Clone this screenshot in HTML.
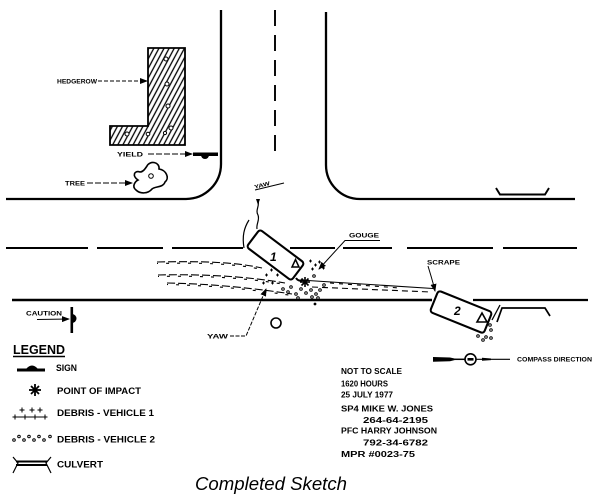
<!DOCTYPE html>
<html><head><meta charset="utf-8"><style>
html,body{margin:0;padding:0;background:#fff;}
svg{display:block;}
text{font-family:"Liberation Sans",Arial,sans-serif;fill:#000;}
.b{font-weight:bold;}
</style></head><body>
<svg width="600" height="504" viewBox="0 0 600 504" xmlns="http://www.w3.org/2000/svg">
<defs>
<pattern id="hatch" width="4.5" height="10" patternUnits="userSpaceOnUse" patternTransform="rotate(28)">
<line x1="1" y1="0" x2="1" y2="10" stroke="#000" stroke-width="1.3"/>
</pattern>
<marker id="ah" markerWidth="8" markerHeight="6" refX="7" refY="3" orient="auto" markerUnits="userSpaceOnUse">
<path d="M0,0 L8,3 L0,6 Z" fill="#000"/>
</marker>
</defs>
<rect width="600" height="504" fill="#fff"/>

<!-- road edges -->
<path d="M221,10 V164 A35,35 0 0 1 186,199 H6" fill="none" stroke="#000" stroke-width="2.3"/>
<path d="M326,12 V165 A34,34 0 0 0 360,199 H575" fill="none" stroke="#000" stroke-width="2.3"/>
<line x1="275" y1="10" x2="275" y2="160" stroke="#000" stroke-width="1.9" stroke-dasharray="16 9"/>
<g stroke="#000" stroke-width="2">
<line x1="6" y1="248" x2="88" y2="248"/>
<line x1="97" y1="248" x2="163" y2="248"/>
<line x1="172" y1="248" x2="243" y2="248"/>
<line x1="290" y1="248" x2="335" y2="248"/>
<line x1="343" y1="248" x2="392" y2="248"/>
<line x1="407" y1="248" x2="493" y2="248"/>
<line x1="503" y1="248" x2="577" y2="248"/>
</g>
<line x1="12" y1="300" x2="432" y2="300" stroke="#000" stroke-width="2.4"/>
<line x1="473" y1="300" x2="588" y2="300" stroke="#000" stroke-width="2.2"/>

<!-- culverts -->
<path d="M496,188 L500,194.5 L545,194.5 L549,188" fill="none" stroke="#000" stroke-width="1.9"/>
<path d="M497,322 L502,308 L545,308 L550,316" fill="none" stroke="#000" stroke-width="1.7"/>

<!-- hedgerow -->
<path d="M148,48 L185,48 L185,145 L110,145 L110,126 L148,126 Z" fill="url(#hatch)" stroke="#000" stroke-width="1.8"/>
<g fill="#fff" stroke="#000" stroke-width="1">
<circle cx="166" cy="59" r="2"/><circle cx="167" cy="84" r="2"/><circle cx="168" cy="106" r="2"/>
<circle cx="171" cy="128" r="2"/><circle cx="165" cy="133" r="1.6"/><circle cx="148" cy="134" r="1.8"/><circle cx="127" cy="134" r="2"/>
</g>
<text class="b" x="57" y="83.5" font-size="6.5" textLength="40" lengthAdjust="spacingAndGlyphs">HEDGEROW</text>
<line x1="98" y1="81" x2="147" y2="81" stroke="#000" stroke-width="1" stroke-dasharray="4 2" marker-end="url(#ah)"/>

<!-- yield -->
<text class="b" x="117" y="156.5" font-size="6.5" textLength="26" lengthAdjust="spacingAndGlyphs">YIELD</text>
<line x1="148" y1="154" x2="192" y2="154" stroke="#000" stroke-width="1" stroke-dasharray="6 2" marker-end="url(#ah)"/>
<rect x="193" y="152.5" width="25" height="3.5" fill="#000"/>
<path d="M201,155 A4,4 0 0 0 209,155 Z" fill="#000"/>

<!-- tree -->
<path d="M147,166 C150,160 160,162 159,169 C166,170 170,178 165,182 C163,188 155,186 152,189 C148,194 140,194 136,190 C131,186 136,181 138,180 C132,176 134,170 140,172 C143,172 145,169 147,166 Z" fill="#fff" stroke="#000" stroke-width="1.6"/>
<circle cx="151" cy="176" r="2.3" fill="none" stroke="#000" stroke-width="1"/>
<text class="b" x="65" y="185.5" font-size="6.5" textLength="20" lengthAdjust="spacingAndGlyphs">TREE</text>
<line x1="87" y1="183" x2="132" y2="183" stroke="#000" stroke-width="1" stroke-dasharray="6 2" marker-end="url(#ah)"/>

<!-- upper yaw -->
<text class="b" x="254" y="187" font-size="5.5" textLength="16" lengthAdjust="spacingAndGlyphs" transform="rotate(-14 262 185)">YAW</text>
<line x1="255" y1="190" x2="284" y2="183" stroke="#000" stroke-width="1"/>
<path d="M258,200 C260,206 255,210 258,215 C260,220 256,224 257,229" fill="none" stroke="#000" stroke-width="1.2"/>
<path d="M256,199 L258,205 L260,199 Z" fill="#000"/>
<path d="M249,220 C244,228 242,236 244,248" fill="none" stroke="#000" stroke-width="1.2"/>

<!-- skid marks -->
<g fill="none" stroke="#000" stroke-width="1.1">
<path d="M157,262 C200,261 235,262 262,268" stroke-dasharray="8 3"/>
<path d="M157,263.5 C200,262.5 235,263.5 262,269.5" stroke-dasharray="3 8" stroke-dashoffset="2"/>
<path d="M158,275 C200,274 245,276 285,283" stroke-dasharray="8 3"/>
<path d="M158,276.5 C200,275.5 245,277.5 285,284.5" stroke-dasharray="3 8" stroke-dashoffset="2"/>
<path d="M167,283 C210,284 245,287 292,294" stroke-dasharray="8 3"/>
<path d="M167,284.5 C210,285.5 245,288.5 292,295.5" stroke-dasharray="3 8" stroke-dashoffset="2"/>
<path d="M300,280 L433,288.5"/>
<path d="M312,287 L431,292" stroke-dasharray="6 4"/>
<path d="M330,283 L400,288" stroke-dasharray="4 5"/>
</g>

<!-- car 1 -->
<rect x="-28" y="-11" width="56" height="22" rx="3" transform="translate(275.5 255) rotate(37)" fill="#fff" stroke="#000" stroke-width="2.1"/>
<text x="270" y="261" font-size="12" font-style="italic" class="b">1</text>
<path d="M292,267 L299,267 L295.5,259.5 Z" fill="none" stroke="#000" stroke-width="1.5"/>

<!-- car 2 -->
<rect x="-29" y="-11.5" width="58" height="23" rx="3" transform="translate(461 312) rotate(22)" fill="#fff" stroke="#000" stroke-width="2.1"/>
<text x="454" y="315" font-size="12" font-style="italic" class="b">2</text>
<path d="M477,322 L487,322 L482,313 Z" fill="none" stroke="#000" stroke-width="1.6"/>
<line x1="492" y1="320" x2="500" y2="305" stroke="#000" stroke-width="1.3"/>

<!-- impact star -->
<g stroke="#000" stroke-width="1.6">
<line x1="300" y1="282" x2="310" y2="282"/><line x1="305" y1="277" x2="305" y2="287"/>
<line x1="301.5" y1="278.5" x2="308.5" y2="285.5"/><line x1="301.5" y1="285.5" x2="308.5" y2="278.5"/>
</g>
<path d="M296,278 C298,281 300,281 303,280" fill="none" stroke="#000" stroke-width="2"/>

<!-- debris v1 (plus) -->
<g stroke="#000" stroke-width="1">
<path d="M309,261h3M310.5,259.5v3"/><path d="M314,265h3M315.5,263.5v3"/><path d="M318,262h3M319.5,260.5v3"/>
<path d="M311,269h3M312.5,267.5v3"/><path d="M265,275h3M266.5,273.5v3"/><path d="M270,270h3M271.5,268.5v3"/>
<path d="M276,275h3M277.5,273.5v3"/><path d="M271,283h3M272.5,281.5v3"/><path d="M262,283h3M263.5,281.5v3"/>
<path d="M322,268h3M323.5,266.5v3"/>
</g>
<!-- debris v2 (circles) -->
<g fill="none" stroke="#000" stroke-width="1">
<circle cx="283" cy="289" r="1.3"/><circle cx="288" cy="292" r="1.3"/><circle cx="291" cy="287" r="1.3"/>
<circle cx="296" cy="294" r="1.3"/><circle cx="301" cy="289" r="1.3"/><circle cx="306" cy="293" r="1.3"/>
<circle cx="311" cy="290" r="1.3"/><circle cx="316" cy="294" r="1.3"/><circle cx="320" cy="290" r="1.3"/>
<circle cx="318" cy="298" r="1.3"/><circle cx="312" cy="297" r="1.3"/><circle cx="324" cy="285" r="1.3"/>
<circle cx="298" cy="298" r="1.3"/><circle cx="314" cy="276" r="1.3"/>
<circle cx="490" cy="325" r="1.3"/><circle cx="491" cy="330" r="1.3"/><circle cx="478" cy="336" r="1.3"/>
<circle cx="483" cy="340" r="1.3"/><circle cx="486" cy="337" r="1.3"/><circle cx="491" cy="338" r="1.3"/>
</g>
<circle cx="315" cy="304" r="1.4" fill="#000"/>

<!-- gouge -->
<text class="b" x="349" y="237.5" font-size="6.5" textLength="30" lengthAdjust="spacingAndGlyphs">GOUGE</text>
<path d="M380,240.5 L345,240.5 L319,269" fill="none" stroke="#000" stroke-width="1" marker-end="url(#ah)"/>
<!-- scrape -->
<text class="b" x="427" y="264.5" font-size="6.5" textLength="33" lengthAdjust="spacingAndGlyphs">SCRAPE</text>
<path d="M428,266 C431,276 433,282 435,291" fill="none" stroke="#000" stroke-width="1" marker-end="url(#ah)"/>
<!-- lower yaw -->
<text class="b" x="207" y="338.5" font-size="6.5" textLength="21" lengthAdjust="spacingAndGlyphs">YAW</text>
<path d="M230,336 L246,336 L266,289" fill="none" stroke="#000" stroke-width="1" stroke-dasharray="4 1.5" marker-end="url(#ah)"/>
<circle cx="276" cy="323" r="5" fill="none" stroke="#000" stroke-width="1.6"/>

<!-- caution -->
<text class="b" x="26" y="315.5" font-size="6.5" textLength="36" lengthAdjust="spacingAndGlyphs">CAUTION</text>
<line x1="37" y1="319.5" x2="69" y2="319" stroke="#000" stroke-width="1" marker-end="url(#ah)"/>
<rect x="70.5" y="307" width="2.6" height="26" fill="#000"/>
<path d="M72,314 A4.5,4.5 0 0 1 72,323 Z" fill="#000"/>

<!-- compass -->
<path d="M433,357 L450,357.5 L458,359.3 L450,361.2 L433,361.8 Z" fill="#000"/>
<line x1="455" y1="359.3" x2="465" y2="359.3" stroke="#000" stroke-width="1.5"/>
<circle cx="470.5" cy="359.3" r="5.5" fill="#fff" stroke="#000" stroke-width="1.6"/>
<rect x="467.5" y="358" width="6" height="2.6" fill="#000"/>
<line x1="476" y1="359.3" x2="510" y2="359.3" stroke="#000" stroke-width="1.2"/>
<path d="M482,357.8 L491,358.5 L491,360.1 L482,360.8 Z" fill="#000"/>
<text class="b" x="517" y="361.6" font-size="6" textLength="75" lengthAdjust="spacingAndGlyphs">COMPASS DIRECTION</text>

<!-- info -->
<g class="b" font-size="8">
<text class="b" x="341" y="373.8" textLength="61" lengthAdjust="spacingAndGlyphs">NOT TO SCALE</text>
<text class="b" x="341" y="386.3" textLength="47" lengthAdjust="spacingAndGlyphs">1620 HOURS</text>
<text class="b" x="341" y="397.3" textLength="52" lengthAdjust="spacingAndGlyphs">25 JULY 1977</text>
<text class="b" x="341" y="411.3" textLength="92" lengthAdjust="spacingAndGlyphs">SP4 MIKE  W. JONES</text>
<text class="b" x="363" y="423" textLength="65" lengthAdjust="spacingAndGlyphs">264-64-2195</text>
<text class="b" x="341" y="433.7" textLength="96" lengthAdjust="spacingAndGlyphs">PFC HARRY JOHNSON</text>
<text class="b" x="363" y="445.3" textLength="65" lengthAdjust="spacingAndGlyphs">792-34-6782</text>
<text class="b" x="341" y="457" textLength="74" lengthAdjust="spacingAndGlyphs">MPR #0023-75</text>
</g>

<!-- legend -->
<text class="b" x="13" y="354" font-size="12.5" textLength="52" lengthAdjust="spacingAndGlyphs">LEGEND</text>
<line x1="13" y1="356.5" x2="65" y2="356.5" stroke="#000" stroke-width="1.5"/>
<rect x="17" y="368.5" width="28" height="3" fill="#000"/>
<path d="M26,369 Q32,362 38,369 Z" fill="#000"/>
<text class="b" x="56" y="371" font-size="9" textLength="21" lengthAdjust="spacingAndGlyphs">SIGN</text>
<g stroke="#000" stroke-width="1.8">
<line x1="29" y1="390" x2="41" y2="390"/><line x1="35" y1="384" x2="35" y2="396"/>
<line x1="31" y1="386" x2="39" y2="394"/><line x1="31" y1="394" x2="39" y2="386"/>
</g>
<text class="b" x="57" y="394" font-size="9" textLength="84" lengthAdjust="spacingAndGlyphs">POINT OF IMPACT</text>
<g stroke="#000" stroke-width="1">
<path d="M19.5,410h5M22,407.5v5"/><path d="M29.5,410h5M32,407.5v5"/><path d="M37.5,410h5M40,407.5v5"/>
<path d="M12.5,417h5M15,414.5v5"/><path d="M22.5,417h5M25,414.5v5"/><path d="M32.5,417h5M35,414.5v5"/><path d="M42.5,417h5M45,414.5v5"/>
<line x1="13" y1="417" x2="47" y2="417"/>
</g>
<text class="b" x="57" y="416" font-size="9" textLength="97" lengthAdjust="spacingAndGlyphs">DEBRIS - VEHICLE 1</text>
<g fill="none" stroke="#000" stroke-width="1">
<circle cx="14" cy="440" r="1.3"/><circle cx="19" cy="436.5" r="1.3"/><circle cx="24" cy="440" r="1.3"/>
<circle cx="29" cy="436.5" r="1.3"/><circle cx="34" cy="440" r="1.3"/><circle cx="39" cy="436.5" r="1.3"/>
<circle cx="44" cy="440" r="1.3"/><circle cx="50" cy="436.5" r="1.3"/>
</g>
<text class="b" x="57" y="442.7" font-size="9" textLength="98" lengthAdjust="spacingAndGlyphs">DEBRIS - VEHICLE 2</text>
<g stroke="#000" fill="none">
<line x1="16" y1="461.5" x2="47" y2="461.5" stroke-width="2"/>
<line x1="16" y1="465" x2="47" y2="465" stroke-width="2"/>
<path d="M13,457 L18,463 L13,473" stroke-width="1.2"/>
<path d="M51,457 L46,463 L51,473" stroke-width="1.2"/>
</g>
<text class="b" x="57" y="467.7" font-size="9" textLength="46" lengthAdjust="spacingAndGlyphs">CULVERT</text>

<!-- caption -->
<text x="195" y="490" font-size="18.5" font-style="italic" textLength="152" lengthAdjust="spacingAndGlyphs">Completed Sketch</text>
</svg>
</body></html>
